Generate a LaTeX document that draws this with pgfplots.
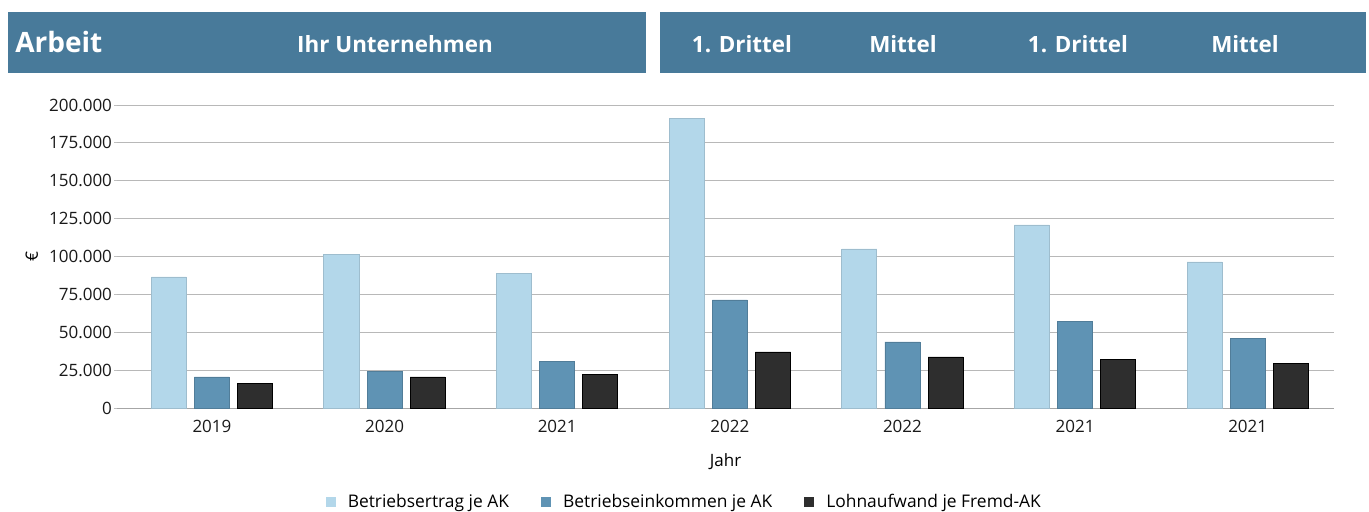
\documentclass[border=0pt]{standalone}
\usepackage{pgfplots}
\pgfplotsset{compat=1.18}
\usepackage{fontspec}
\setmainfont{Open Sans}
\definecolor{hdr}{HTML}{487A9A}
\definecolor{c1}{HTML}{B3D7EA}
\definecolor{c2}{HTML}{5F93B4}
\definecolor{c3}{HTML}{2E2E2E}
\begin{document}
\begin{tikzpicture}[x=0.5pt,y=0.5pt]
\useasboundingbox (0,0) rectangle (1369,511);
\fill[hdr] (8,438) rectangle (646,499);
\fill[hdr] (660,438) rectangle (1366,499);
\begin{scope}[every node/.style={text=white,font=\bfseries\fontsize{11.2}{13}\selectfont,inner sep=0pt}]
\node[anchor=west,font=\bfseries\fontsize{14}{16}\selectfont] at (15,469) {Arbeit};
\node at (395,467) {Ihr Unternehmen};
\node at (742,467) {1. Drittel};
\node at (903,467) {Mittel};
\node at (1078,467) {1. Drittel};
\node at (1245,467) {Mittel};
\end{scope}
\begin{axis}[
 at={(58.5pt,51.5pt)}, anchor=south west, scale only axis,
 width=608.5pt, height=151.5pt,
 ybar, bar width=0.203,
 xmin=-0.55, xmax=6.5, ymin=0, ymax=200000,
 xtick={0,1,2,3,4,5,6}, xticklabels={2019,2020,2021,2022,2022,2021,2021},
 ytick={0,25000,50000,75000,100000,125000,150000,175000,200000},
 yticklabels={0,25.000,50.000,75.000,100.000,125.000,150.000,175.000,200.000},
 ymajorgrids, grid style={draw=black!28, line width=0.5pt},
 scaled y ticks=false,
 ticklabel style={font=\fontsize{8.5}{10}\selectfont, text=black!90},
 axis x line*=bottom, axis y line*=left,
 y axis line style={draw=none}, x axis line style={draw=black!35, line width=0.5pt},
 xtick style={draw=none}, ytick style={draw=black!25, line width=0.5pt},
 tick align=outside, major tick length=1.5pt,
 yticklabel style={xshift=2.5pt},
 xticklabel style={yshift=-1pt},
 xlabel={Jahr}, ylabel={€},
 label style={font=\fontsize{8.5}{10}\selectfont},
 xlabel style={at={(axis description cs:0.5,-0.178)}, anchor=center},
 ylabel style={at={(axis description cs:-0.07,0.5)}, anchor=center},
 legend style={at={(0.467,-0.31)}, anchor=center, legend columns=3, draw=none,
   font=\fontsize{8.7}{10}\selectfont,
   /tikz/every odd column/.append style={column sep=4pt},
   /tikz/every even column/.append style={column sep=14pt}},
 legend image code/.code={\fill[#1,draw=none] (0pt,-2.5pt) rectangle (5pt,2.5pt);},
]
\addplot[fill=c1, draw=c1!88!black, line width=0.4pt, bar shift=-0.25] coordinates {(0,86500) (1,101600) (2,89100) (3,191400) (4,105000) (5,120800) (6,96400)};
\addplot[fill=c2, draw=c2!85!black, line width=0.4pt, bar shift=0] coordinates {(0,20500) (1,24400) (2,31000) (3,71300) (4,43600) (5,57400) (6,46200)};
\addplot[fill=c3, draw=black, line width=0.4pt, bar shift=0.25] coordinates {(0,16500) (1,20500) (2,22400) (3,37000) (4,33700) (5,32300) (6,29700)};
\legend{Betriebsertrag je AK, Betriebseinkommen je AK, Lohnaufwand je Fremd-AK}
\end{axis}
\end{tikzpicture}
\end{document}
